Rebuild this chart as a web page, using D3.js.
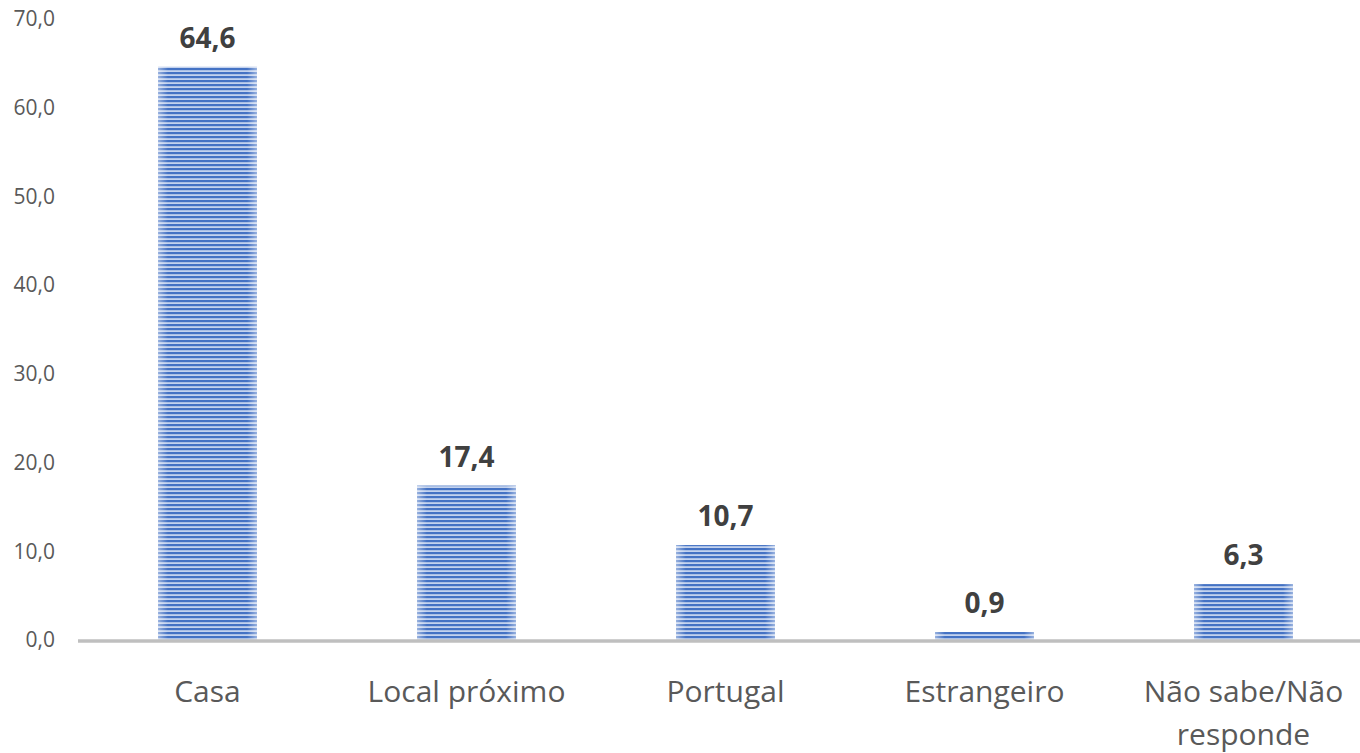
<!DOCTYPE html>
<html><head><meta charset="utf-8">
<script src="https://cdn.jsdelivr.net/npm/d3@7"></script>
<style>body{margin:0;background:#fff}</style>
</head><body>
<svg id="c" width="1360" height="753"></svg>
<script>
const categories = ["Casa", "Local próximo", "Portugal", "Estrangeiro", "Não sabe/Não responde"];
const values = [64.6, 17.4, 10.7, 0.9, 6.3];
const tickValues = [0, 10, 20, 30, 40, 50, 60, 70];

const svg = d3.select("#c");
const fmt = d => d.toFixed(1).replace(".", ",");
const y = d3.scaleLinear().domain([0, 70]).range([640, 18.8]);
const x = d3.scaleBand().domain(categories).range([78, 1373]).paddingInner(0.618).paddingOuter(0.309);

const defs = svg.append("defs");
const pat = defs.append("pattern").attr("id", "stripes").attr("patternUnits", "userSpaceOnUse")
  .attr("width", 8).attr("height", 4);
pat.append("rect").attr("width", 8).attr("height", 4).attr("fill", "#c3d2ee");
pat.append("rect").attr("width", 8).attr("height", 2.2).attr("fill", "#4472c4");
const g = defs.append("linearGradient").attr("id", "edge").attr("x1", 0).attr("x2", 1).attr("y1", 0).attr("y2", 0);
[[0, 0.45], [0.1, 0], [0.9, 0], [1, 0.45]].forEach(([o, a]) =>
  g.append("stop").attr("offset", o).attr("stop-color", "#fff").attr("stop-opacity", a));

// y tick labels
svg.append("g").selectAll("text").data(tickValues).join("text")
  .attr("x", 55).attr("y", d => y(d)).attr("dy", "0.35em")
  .attr("text-anchor", "end").attr("font-family", "Open Sans").attr("font-size", 21)
  .attr("fill", "#595959").text(fmt);

// bars
const bars = svg.append("g");
bars.selectAll("rect.b").data(values).join("rect").attr("class", "b")
  .attr("x", (d, i) => x(categories[i])).attr("width", x.bandwidth())
  .attr("y", d => y(d)).attr("height", d => y(0) - y(d)).attr("fill", "url(#stripes)");
bars.selectAll("rect.e").data(values).join("rect").attr("class", "e")
  .attr("x", (d, i) => x(categories[i])).attr("width", x.bandwidth())
  .attr("y", d => y(d)).attr("height", d => y(0) - y(d)).attr("fill", "url(#edge)");

// axis line
svg.append("line").attr("x1", 78).attr("x2", 1360).attr("y1", 641).attr("y2", 641)
  .attr("stroke", "#bfbfbf").attr("stroke-width", 3.5);

// value labels
svg.append("g").selectAll("text").data(values).join("text")
  .attr("x", (d, i) => x(categories[i]) + x.bandwidth() / 2).attr("y", d => y(d) - 19)
  .attr("text-anchor", "middle").attr("font-family", "Open Sans").attr("font-weight", "bold")
  .attr("font-size", 28).attr("fill", "#404040").text(fmt);

// category labels
const cl = svg.append("g").selectAll("text").data(categories).join("text")
  .attr("x", d => x(d) + x.bandwidth() / 2).attr("y", 702)
  .attr("text-anchor", "middle").attr("font-family", "Open Sans").attr("font-size", 30)
  .attr("fill", "#595959");
cl.each(function(d) {
  const t = d3.select(this);
  const lines = d === "Não sabe/Não responde" ? ["Não sabe/Não", "responde"] : [d];
  lines.forEach((l, i) => t.append("tspan").attr("x", x(d) + x.bandwidth() / 2)
    .attr("dy", i === 0 ? 0 : 43).text(l));
});
</script>
</body></html>
